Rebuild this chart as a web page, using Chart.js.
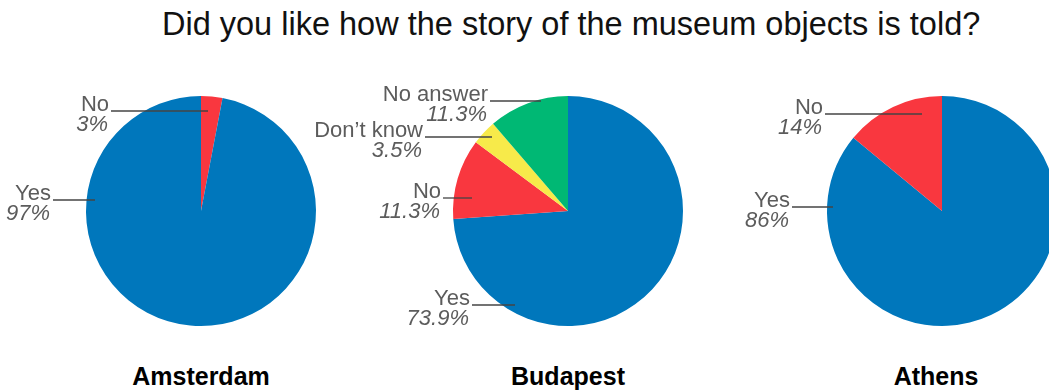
<!DOCTYPE html>
<html>
<head>
<meta charset="UTF-8">
<title>Did you like how the story of the museum objects is told?</title>
<script src="https://cdn.jsdelivr.net/npm/chart.js"></script>
<style>
  body { margin: 0; width: 1049px; height: 391px; overflow: hidden; background: #fff; position: relative; font-family: "Liberation Sans", Arial, sans-serif; }
  canvas { position: absolute; left: 0; top: 0; }
  .title { position: absolute; left: 162px; top: 6px; font-size: 32.5px; color: #111; white-space: nowrap; }
  .city { position: absolute; top: 362px; width: 200px; margin-left: -100px; text-align: center; font-size: 25px; font-weight: bold; color: #000; }
</style>
</head>
<body>
<div class="title">Did you like how the story of the museum objects is told?</div>
<div class="city" style="left:201px">Amsterdam</div>
<div class="city" style="left:568px">Budapest</div>
<div class="city" style="left:936px">Athens</div>

<canvas id="amsterdamChart" width="1100" height="391"></canvas>
<canvas id="budapestChart" width="1100" height="391"></canvas>
<canvas id="athensChart" width="1100" height="391"></canvas>

<script>
    // Datos de cada ciudad (porcentajes)
    const amsterdamLabels = ['No', 'Yes'];
    const amsterdamValues = [3, 97];

    const budapestLabels = ['Yes', 'No', 'Don\u2019t know', 'No answer'];
    const budapestValues = [73.9, 11.3, 3.5, 11.3];

    const athensLabels = ['Yes', 'No'];
    const athensValues = [86, 14];

    const answerColors = {
        'Yes': '#0077bc',
        'No': '#f9373f',
        'Don\u2019t know': '#f7ea4a',
        'No answer': '#00b874'
    };

    // Callouts: end point of the leader relative to pie centre, and line length
    const amsterdamCallouts = [{dx: 7, dy: -100, len: 97}, {dx: -106, dy: -11, len: 42}];
    const budapestCallouts = [{dx: -53, dy: 94, len: 43}, {dx: -96, dy: -13, len: 29},
                              {dx: -76, dy: -74, len: 67}, {dx: -27, dy: -110, len: 51}];
    const athensCallouts = [{dx: -109, dy: -4, len: 41}, {dx: -20, dy: -97, len: 97}];

    const calloutPlugin = {
        id: 'callouts',
        afterDraw(chart, args, opts) {
            const ctx = chart.ctx;
            const meta = chart.getDatasetMeta(0);
            const values = chart.data.datasets[0].data;
            meta.data.forEach(function (arc, i) {
                const c = opts.items[i];
                const ex = arc.x + c.dx, ey = arc.y + c.dy;
                const sx = ex - c.len;
                ctx.save();
                ctx.strokeStyle = '#444';
                ctx.lineWidth = 1.3;
                ctx.beginPath();
                ctx.moveTo(sx, ey);
                ctx.lineTo(ex, ey);
                ctx.stroke();
                ctx.fillStyle = '#5c5c5c';
                ctx.textAlign = 'right';
                ctx.textBaseline = 'alphabetic';
                ctx.font = '22px "Liberation Sans", Arial, sans-serif';
                ctx.fillText(chart.data.labels[i], sx - 2, ey);
                ctx.font = 'italic 22px "Liberation Sans", Arial, sans-serif';
                ctx.fillText(values[i] + '%', sx - 3, ey + 20);
                ctx.restore();
            });
        }
    };

    function createPie(canvasId, labels, values, callouts, cx, cy, r) {
        const canvas = document.getElementById(canvasId);
        return new Chart(canvas.getContext('2d'), {
            type: 'pie',
            data: {
                labels: labels,
                datasets: [{
                    data: values,
                    backgroundColor: labels.map(l => answerColors[l]),
                    borderWidth: 0
                }]
            },
            options: {
                responsive: false,
                animation: false,
                layout: {
                    padding: {left: cx - r, right: canvas.width - cx - r, top: cy - r, bottom: canvas.height - cy - r}
                },
                plugins: {
                    legend: {display: false},
                    tooltip: {enabled: false},
                    callouts: {items: callouts}
                }
            },
            plugins: [calloutPlugin]
        });
    }

    createPie('amsterdamChart', amsterdamLabels, amsterdamValues, amsterdamCallouts, 201, 211, 115);
    createPie('budapestChart', budapestLabels, budapestValues, budapestCallouts, 568, 211, 115);
    createPie('athensChart', athensLabels, athensValues, athensCallouts, 942, 211, 115);
</script>
</body>
</html>
